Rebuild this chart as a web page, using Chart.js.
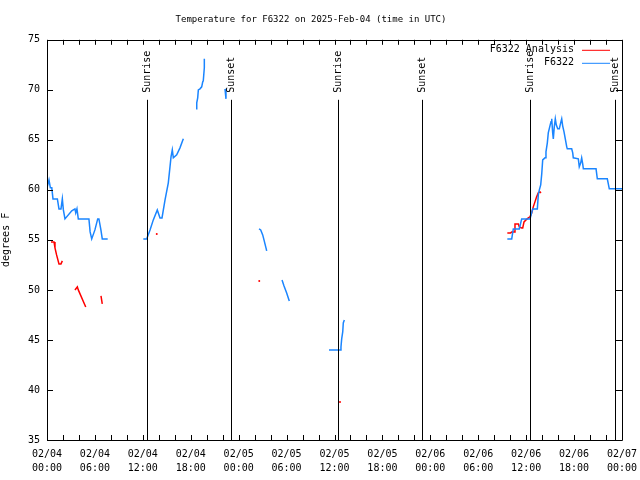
<!DOCTYPE html>
<html>
<head>
<meta charset="utf-8">
<script src="https://cdn.jsdelivr.net/npm/chart.js@4/dist/chart.umd.min.js"></script>
<style>
  body { margin: 0; background: #fff; }
  #wrap { width: 640px; height: 480px; }
</style>
</head>
<body>
<div id="wrap"><canvas id="tempChart" width="640" height="480"></canvas></div>
<script>
// Hours since 02/04 00:00 UTC; null marks a gap in the record
const obsHours = [
  0, 0.25, 0.42, 0.6, 0.75, 1.3, 1.5, 1.75, 1.92, 2.05, 2.25, 3.1, 3.5, 3.6, 3.75, 3.92, 5.25, 5.4, 5.6, 6.0, 6.35, 6.5, 6.75, 6.92, 7.6, null,
  12.06, 12.48, 12.9, 13.31, 13.81, 14.15, 14.4, 14.78, 15.19, 15.4, 15.53, 15.69, 15.82, 16.24, 16.65, 17.07, null,
  18.66, 18.75, 18.87, 18.95, 19.16, 19.37, 19.5, 19.57, 19.7, 19.7, null,
  22.29, 22.41, null,
  26.55, 26.76, 27.01, 27.17, 27.42, 27.51, null,
  29.43, 29.68, 30.01, 30.34, null,
  35.31, 36.69, 36.81, 36.9, 37.03, 37.1, 37.23, null,
  57.64, 58.19, 58.39, 59.14, 59.32, 59.44, 60.48, 60.82, 61.4, 61.52, 61.65, 61.82, 61.95, 62.07, 62.36, 62.48,
  62.65, 62.77, 62.98, 63.11, 63.2, 63.32, 63.4, 63.52, 63.65, 63.77, 63.95, 64.15, 64.32, 64.45, 64.57, 64.74,
  64.9, 65.08, 65.15, 65.7, 65.83, 65.9, 66.53, 66.65, 66.83, 66.95, 67.08, 67.16, 68.75, 68.91, 70.16, 70.41, 72
];
const obsTemps = [
  60.2, 61, 60.2, 60.2, 59.1, 59.1, 58.1, 58.1, 59.1, 58, 57.1, 57.9, 58.1, 57.7, 58.1, 57.1, 57.1, 55.8, 55.1, 56, 57.1, 57.1, 56, 55.1, 55.1, null,
  55.1, 55.1, 56, 57, 58, 57.2, 57.2, 59, 60.7, 62.3, 63.3, 64, 63.2, 63.5, 64.2, 65.1, null,
  68.1, 68.7, 69.2, 70, 70.1, 70.3, 70.8, 70.9, 72.2, 73.1, null,
  70.1, 69.1, null,
  56.1, 56, 55.5, 55, 54.2, 53.9, null,
  51, 50.4, 49.7, 48.9, null,
  44, 44, 44.3, 45.1, 45.8, 46.7, 47, null,
  55.1, 55.1, 56.1, 56.1, 56.7, 57.1, 57.1, 58.1, 58.1, 59.5, 60, 60.5, 61.6, 63, 63.2, 63.8,
  64.7, 65.7, 66.4, 66.8, 67.1, 65.7, 65.1, 66.3, 67.1, 66.5, 66.1, 66.1, 66.7, 67.1, 66.4, 65.8,
  65.1, 64.3, 64.1, 64.1, 63.7, 63.2, 63.1, 62.3, 62.7, 63.2, 62.6, 62.1, 62.1, 61.1, 61.1, 60.1, 60.1
];

const anaHours = [
  0.5, 0.88, 1.0, 1.2, 1.5, 1.75, 1.92, null,
  3.5, 3.8, 3.92, 4.85, null,
  6.76, 6.92, null,
  13.74, null,
  26.58, null,
  36.69, null,
  57.64, 58.06, 58.19, 58.48, 58.6, 59.02, 59.14, 59.44, 59.57, 59.73, 59.98, 60.27, 60.48, 60.69, 60.89, 61.1,
  61.31, 61.52, 61.73, 61.86
];
const anaTemps = [
  54.8, 54.8, 54.2, 53.5, 52.6, 52.6, 52.9, null,
  50.0, 50.3, 50.0, 48.3, null,
  49.4, 48.6, null,
  55.6, null,
  50.9, null,
  38.8, null,
  55.7, 55.7, 55.8, 55.8, 56.6, 56.6, 56.3, 56.2, 56.2, 56.8, 57.0, 57.2, 57.3, 57.7, 58.3, 58.8,
  59.3, 59.7, 59.8, 59.7
];

const sunHours = [12.52, 23.04, 36.44, 46.96, 60.48, 71.12];
const sunLabels = ['Sunrise', 'Sunset', 'Sunrise', 'Sunset', 'Sunrise', 'Sunset'];

const yTicks = [35, 40, 45, 50, 55, 60, 65, 70, 75];

const MONO = '"DejaVu Sans Mono", "Liberation Mono", monospace';
const BLUE = '#1a85ff';
const RED = '#ff0000';

function toPoints(hours, temps) {
    let last = 0;
    return hours.map((h, i) => {
        if (h !== null) last = h;
        return { x: last, y: temps[i] };
    });
}

function tickLabel(h) {
    if (h % 6 !== 0) return '';
    const day = 4 + Math.floor(h / 24);
    const hh = String(h % 24).padStart(2, '0');
    return ['02/0' + day, hh + ':00'];
}

// lone samples get a tiny dot, like the plotted single points
function loneDot(ctx) {
    const d = ctx.dataset.data;
    const i = ctx.dataIndex;
    const prev = d[i - 1], next = d[i + 1];
    const prevGap = !prev || prev.y === null;
    const nextGap = !next || next.y === null;
    return prevGap && nextGap ? 1 : 0;
}

// border, inward ticks, sunrise/sunset markers, gnuplot-style key
const framePlugin = {
    id: 'frame',
    afterDatasetsDraw(chart) {
        const { ctx, chartArea: a, scales } = chart;
        ctx.save();
        ctx.strokeStyle = '#000';
        ctx.lineWidth = 1;
        ctx.beginPath();
        ctx.rect(Math.round(a.left) + 0.5, Math.round(a.top) + 0.5,
                 Math.round(a.right - a.left), Math.round(a.bottom - a.top));
        ctx.stroke();

        ctx.beginPath();
        scales.x.ticks.forEach(t => {
            const px = Math.round(scales.x.getPixelForValue(t.value)) + 0.5;
            ctx.moveTo(px, a.bottom); ctx.lineTo(px, a.bottom - 5);
            ctx.moveTo(px, a.top); ctx.lineTo(px, a.top + 5);
        });
        scales.y.ticks.forEach(t => {
            const py = Math.round(scales.y.getPixelForValue(t.value)) + 0.5;
            ctx.moveTo(a.left, py); ctx.lineTo(a.left + 6, py);
            ctx.moveTo(a.right, py); ctx.lineTo(a.right - 6, py);
        });
        ctx.stroke();

        // sunrise / sunset
        ctx.font = '10px ' + MONO;
        ctx.fillStyle = '#000';
        sunHours.forEach((h, i) => {
            const px = Math.round(scales.x.getPixelForValue(h)) + 0.5;
            ctx.beginPath();
            ctx.moveTo(px, a.top + 60);
            ctx.lineTo(px, a.bottom);
            ctx.stroke();
            ctx.save();
            ctx.translate(px, a.top + 53);
            ctx.rotate(-Math.PI / 2);
            ctx.textAlign = 'left';
            ctx.textBaseline = 'middle';
            ctx.fillText(sunLabels[i], 0, 0);
            ctx.restore();
        });

        // key
        const keys = [chart.data.datasets[1], chart.data.datasets[0]];
        ctx.textAlign = 'right';
        ctx.textBaseline = 'middle';
        keys.forEach((ds, i) => {
            const y = a.top + 10 + i * 13;
            ctx.fillStyle = '#000';
            ctx.fillText(ds.label, a.right - 48, y);
            ctx.strokeStyle = ds.borderColor;
            ctx.beginPath();
            ctx.moveTo(a.right - 40, y + 0.5);
            ctx.lineTo(a.right - 12, y + 0.5);
            ctx.stroke();
        });
        ctx.restore();
    }
};

new Chart(document.getElementById('tempChart'), {
    type: 'line',
    data: {
        datasets: [
            {
                label: 'F6322',
                data: toPoints(obsHours, obsTemps),
                borderColor: BLUE,
                backgroundColor: BLUE,
                borderWidth: 1.5,
                pointRadius: loneDot,
                pointBorderWidth: 0,
                tension: 0
            },
            {
                label: 'F6322 Analysis',
                data: toPoints(anaHours, anaTemps),
                borderColor: RED,
                backgroundColor: RED,
                borderWidth: 1.5,
                pointRadius: loneDot,
                pointBorderWidth: 0,
                tension: 0
            }
        ]
    },
    options: {
        responsive: false,
        animation: false,
        layout: { padding: { left: 0, right: 18, top: 0, bottom: 0 } },
        plugins: {
            legend: { display: false },
            tooltip: { enabled: false },
            title: {
                display: true,
                text: 'Temperature for F6322 on 2025-Feb-04 (time in UTC)',
                color: '#000',
                font: { family: MONO, size: 9, weight: 'normal', lineHeight: 1.2 },
                padding: { top: 14, bottom: 15 }
            }
        },
        scales: {
            x: {
                type: 'linear',
                min: 0,
                max: 72,
                grid: { display: false, drawTicks: false },
                border: { display: false },
                afterFit(scale) {
                    scale.height = 40;
                    scale.paddingLeft = 0;
                    scale.paddingRight = 0;
                },
                ticks: {
                    stepSize: 2,
                    autoSkip: false,
                    maxRotation: 0,
                    padding: 7,
                    color: '#000',
                    font: { family: MONO, size: 10, lineHeight: 1.4 },
                    callback: v => tickLabel(v)
                }
            },
            y: {
                min: 35,
                max: 75,
                grid: { display: false, drawTicks: false },
                border: { display: false },
                afterFit(scale) { scale.width = 47; },
                afterBuildTicks(scale) { scale.ticks = yTicks.map(v => ({ value: v })); },
                title: {
                    display: true,
                    text: 'degrees F',
                    color: '#000',
                    font: { family: MONO, size: 10 },
                    padding: { top: 0, bottom: 0 }
                },
                ticks: {
                    padding: 7,
                    color: '#000',
                    font: { family: MONO, size: 10 }
                }
            }
        }
    },
    plugins: [framePlugin]
});
</script>
</body>
</html>
